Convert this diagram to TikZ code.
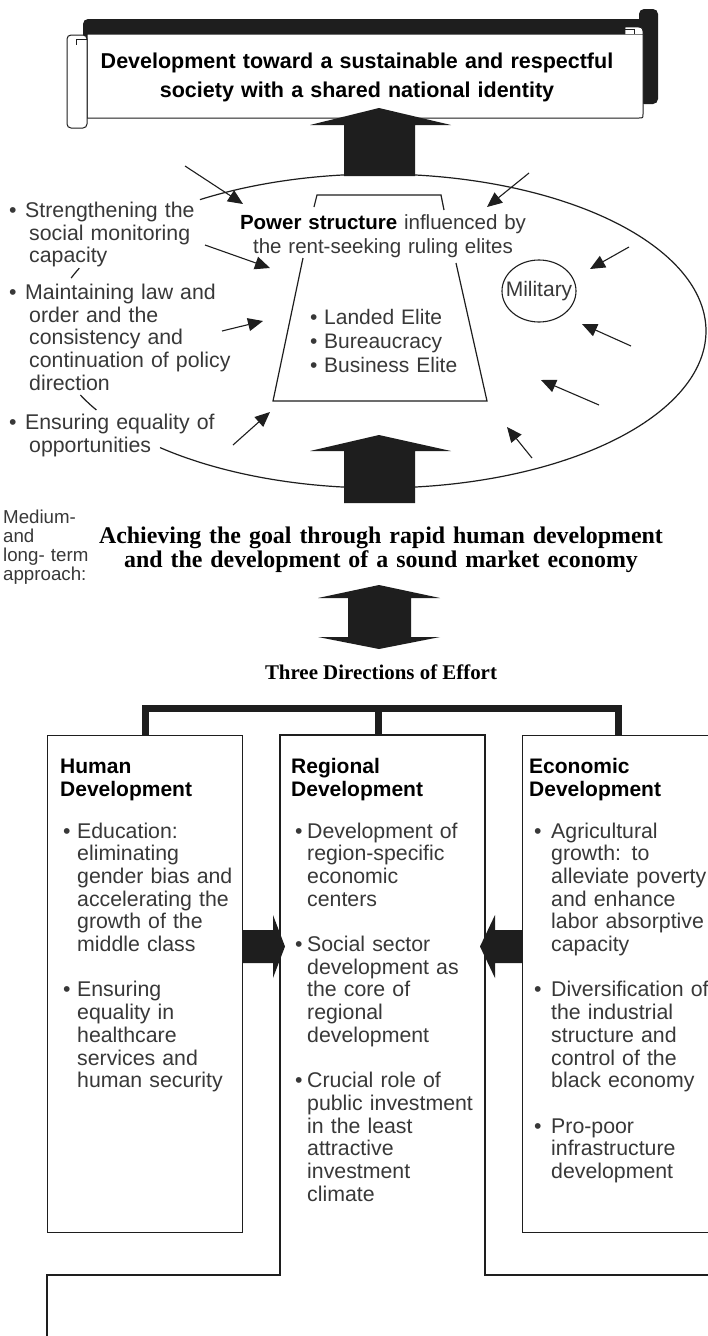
\documentclass[tikz,border=0pt]{standalone}
\usepackage{fontspec}
\setmainfont{Liberation Sans}
\newfontfamily\serifbf{Liberation Serif}
\usetikzlibrary{arrows.meta,shapes.geometric}
\definecolor{ink}{HTML}{1E1E1E}
\definecolor{txt}{HTML}{383838}
\newcommand\bul[1]{\makebox[#1][l]{\textbullet}}
\newcommand\ind[1]{\hspace*{#1}}
\begin{document}
\begin{tikzpicture}[x=1pt,y=-1pt,
  inkline/.style={draw=ink, line width=1.2pt},
  thinarrow/.style={draw=ink, line width=1.1pt, -{Triangle[length=15pt,width=13pt]}},
  bigarrow/.style={fill=ink},
  bracket/.style={draw=ink, line width=7pt, line join=miter},
  para/.style={inner sep=0pt, align=left, anchor=base west, text=txt, text width=230pt, font=\fontsize{21.3}{22.7}\selectfont},
  boxhead/.style={inner sep=0pt, align=left, anchor=base west, text=black, text width=200pt, font=\bfseries\fontsize{21}{23}\selectfont},
  boxpara/.style={inner sep=0pt, align=left, anchor=base west, text=txt, text width=200pt, font=\fontsize{21.3}{22.7}\selectfont},
  panel/.style={draw=ink, line width=1.2pt, anchor=north west, inner sep=0pt}]
\useasboundingbox (0,0) rectangle (708,1336);
\fill[white] (0,0) rectangle (708,1336);
\clip (0,0) rectangle (708,1336);

% ---------- banner ----------
\fill[ink, rounded corners=5pt] (83,19) rectangle (652,64);
\fill[ink, rounded corners=5pt] (639,9) rectangle (658,104);
\filldraw[fill=white, draw=ink, line width=1pt] (87,34) -- (643,34) -- (643,114) .. controls (643,118) .. (639,118) -- (87,118) -- cycle;
\filldraw[fill=white, draw=ink, line width=1pt, rounded corners=4pt] (67,35) rectangle (87,128);
\draw[ink, line width=0.8pt] (87,39.5) -- (76,39.5) -- (76,44.5);
\filldraw[fill=white, draw=ink, line width=0.8pt] (625,34) -- (625,27) -- (638,27) .. controls (643,27) and (643,30) .. (643,34);
\draw[ink, line width=0.8pt] (625,29.5) -- (634,29.5) -- (634,34);
\node[font=\bfseries\fontsize{21.5}{29.5}\selectfont, text width=560pt, align=center, anchor=base, inner sep=0pt] (goal) at (357,68) {Development toward a sustainable and respectful\\society with a shared national identity};

% ---------- top arrow ----------
\fill[bigarrow] (344,176) -- (344,125) -- (310,125) -- (379,108) -- (451,125) -- (415,125) -- (415,176) -- cycle;

% ---------- ellipse (visible parts) ----------
\draw[inkline] plot[domain=236.8:492.05, samples=200] ({379+327*cos(\x)},{331+157*sin(\x)});
\draw[inkline] plot[domain=199.7:203.6, samples=10] ({379+327*cos(\x)},{331+157*sin(\x)});
\draw[inkline] plot[domain=149.8:155.95, samples=10] ({379+327*cos(\x)},{331+157*sin(\x)});

% ---------- trapezoid ----------
\coordinate (tl) at (317,195); \coordinate (tr) at (441,195);
\coordinate (bl) at (273,401); \coordinate (br) at (487,401);
\draw[inkline] (314,207) -- (tl) -- (tr) -- (444,210);
\draw[inkline] (303,258) -- (bl) -- (br) -- (456,263);

\node[inner sep=0pt, text width=320pt, align=center, anchor=base, text=txt, font=\fontsize{20.5}{24}\selectfont] (power) at (383,229) {{\color{black}\bfseries Power structure} influenced by\\the rent-seeking ruling elites};
\node[inner sep=0pt, text width=160pt, align=left, anchor=base west, text=txt, font=\fontsize{21}{24}\selectfont] (elites) at (310,324) {\bul{14pt}Landed Elite\\\bul{14pt}Bureaucracy\\\bul{14pt}Business Elite};
\node[ellipse, draw=ink, line width=1.1pt, minimum width=74pt, minimum height=62pt, inner sep=0pt, text=txt, font=\fontsize{21}{24}\selectfont] (mil) at (539,291) {\makebox[0pt]{Military}};

% ---------- left texts ----------
\node[para] (s1) at (9,217.5) {\bul{16pt}Strengthening the\\\ind{20pt}social monitoring\\\ind{20pt}capacity};
\node[para] (s2) at (9,299.5) {\bul{16pt}Maintaining law and\\\ind{20pt}order and the\\\ind{20pt}consistency and\\\ind{20pt}continuation of policy\\\ind{20pt}direction};
\node[para] (s3) at (9,429.5) {\bul{16pt}Ensuring equality of\\\ind{20pt}opportunities};

% ---------- small arrows ----------
\coordinate (a1s) at (185,166); \coordinate (a1e) at (243,204);
\coordinate (a2s) at (205,245); \coordinate (a2e) at (270,268);
\coordinate (a3s) at (222,331); \coordinate (a3e) at (263,321);
\coordinate (a4s) at (233,445); \coordinate (a4e) at (270,412);
\coordinate (b1s) at (529,173); \coordinate (b1e) at (487,207);
\coordinate (b2s) at (629,247); \coordinate (b2e) at (590,269);
\coordinate (b3s) at (631,346); \coordinate (b3e) at (582,324);
\coordinate (b4s) at (599,405); \coordinate (b4e) at (541,380);
\coordinate (b5s) at (532,458); \coordinate (b5e) at (507,427);
\foreach \p in {a1,a2,a3,a4,b1,b2,b3,b4,b5} \draw[thinarrow] (\p s) -- (\p e);

% ---------- bottom arrow ----------
\fill[bigarrow] (344,503) -- (344,451) -- (310,451) -- (379,435) -- (451,451) -- (415,451) -- (415,503) -- cycle;

% ---------- middle texts ----------
\node[inner sep=0pt, text width=100pt, align=left, anchor=base west, text=txt, font=\fontsize{18.7}{19.2}\selectfont] (term) at (3,523) {Medium-\\and\\long- term\\approach:};
\node[inner sep=0pt, text width=620pt, align=center, anchor=base, font=\serifbf\bfseries\fontsize{23.9}{24.3}\selectfont] (way) at (381,543) {Achieving the goal through rapid human development\\and the development of a sound market economy};
\fill[bigarrow] (348,598) -- (318,598) -- (379,585) -- (440,598) -- (411,598) -- (411,637) -- (440,637) -- (379,649) -- (318,637) -- (348,637) -- cycle;
\node[inner sep=0pt, anchor=base, font=\serifbf\bfseries\fontsize{20.9}{24}\selectfont] (three) at (381,679) {Three Directions of Effort};

% ---------- panels ----------
\node[panel, minimum width=195pt, minimum height=497pt] (hbox) at (47,735) {};
\node[panel, minimum width=192pt, minimum height=497pt] (ebox) at (522,735) {};
\coordinate (rtop) at (378,735);
\coordinate (rmid) at (378,708);
\draw[bracket] (hbox.north) -- ++(0,-27) -| (ebox.north);
\draw[bracket] (rmid) -- (rtop);
\coordinate (r1) at (47,1345); \coordinate (r2) at (47,1275); \coordinate (r3) at (280,1275);
\coordinate (r4) at (280,735); \coordinate (r5) at (485,735); \coordinate (r6) at (485,1275);
\coordinate (r7) at (720,1275);
\draw[inkline] (r1) -- (r2) -- (r3) -- (r4) -- (r5) -- (r6) -- (r7);

\node[boxhead] (h1) at (60,773.5) {Human\\Development};
\node[boxhead] (h2) at (291,773.5) {Regional\\Development};
\node[boxhead] (h3) at (529,773.5) {Economic\\Development};

\node[boxpara] (t1) at (63,838) {\bul{14pt}Education:\\\ind{14pt}eliminating\\\ind{14pt}gender bias and\\\ind{14pt}accelerating the\\\ind{14pt}growth of the\\\ind{14pt}middle class\\[22.7pt]\bul{14pt}Ensuring\\\ind{14pt}equality in\\\ind{14pt}healthcare\\\ind{14pt}services and\\\ind{14pt}human security};
\node[boxpara] (t2) at (295,838) {\bul{12pt}Development of\\\ind{12pt}region-specific\\\ind{12pt}economic\\\ind{12pt}centers\\[22.7pt]\bul{12pt}Social sector\\\ind{12pt}development as\\\ind{12pt}the core of\\\ind{12pt}regional\\\ind{12pt}development\\[22.7pt]\bul{12pt}Crucial role of\\\ind{12pt}public investment\\\ind{12pt}in the least\\\ind{12pt}attractive\\\ind{12pt}investment\\\ind{12pt}climate};
\node[boxpara] (t3) at (534,838) {\bul{17pt}Agricultural\\\ind{17pt}growth: to\\\ind{17pt}alleviate poverty\\\ind{17pt}and enhance\\\ind{17pt}labor absorptive\\\ind{17pt}capacity\\[22.7pt]\bul{17pt}Diversification of\\\ind{17pt}the industrial\\\ind{17pt}structure and\\\ind{17pt}control of the\\\ind{17pt}black economy\\[22.7pt]\bul{17pt}Pro-poor\\\ind{17pt}infrastructure\\\ind{17pt}development};

% ---------- side arrows ----------
\fill[bigarrow] (hbox.east |- 0,930) -- (273,930) -- (273,915) -- (285,946.5) -- (273,978) -- (273,963) -- (hbox.east |- 0,963) -- cycle;
\fill[bigarrow] (ebox.west |- 0,930) -- (495,930) -- (495,915) -- (480,946.5) -- (495,978) -- (495,963) -- (ebox.west |- 0,963) -- cycle;
\end{tikzpicture}
\end{document}
